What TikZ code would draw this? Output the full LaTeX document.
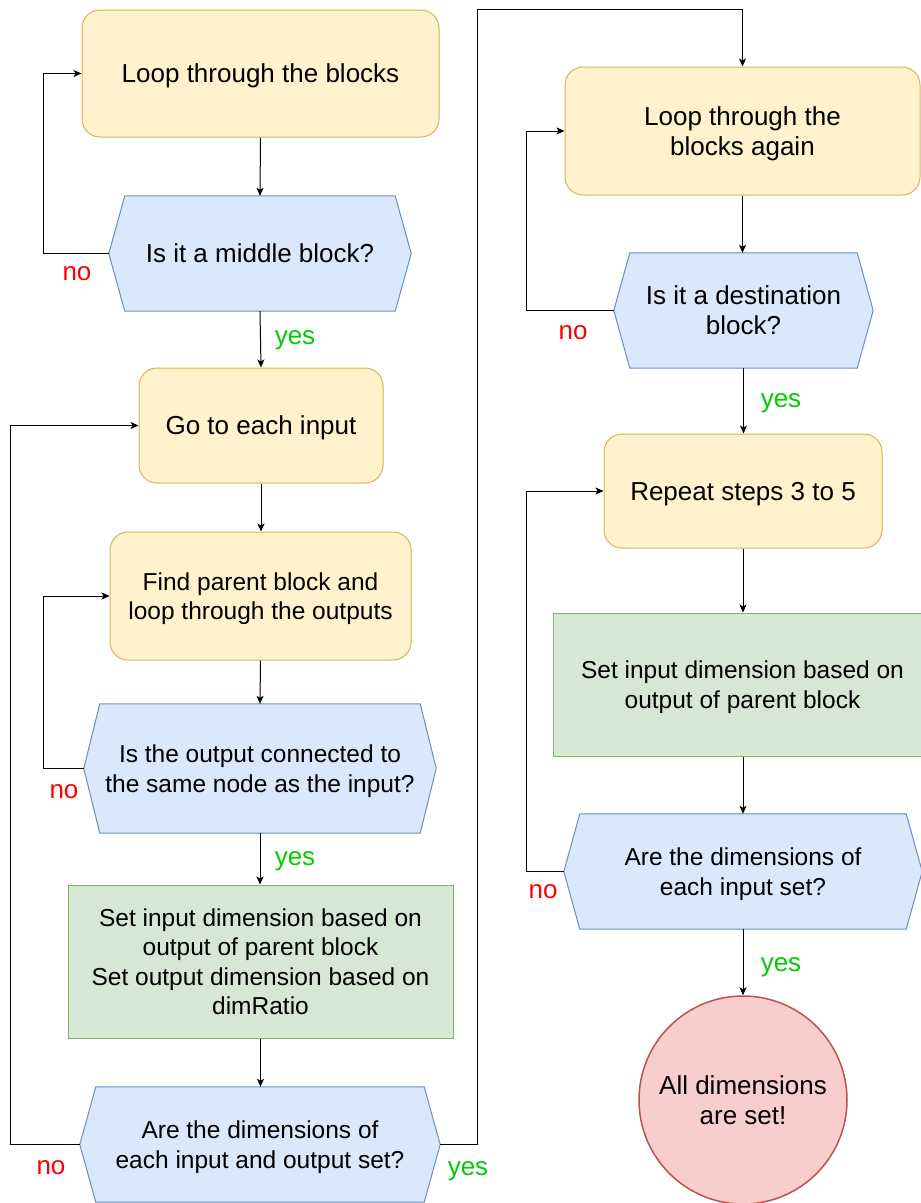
\documentclass[tikz,border=0pt]{standalone}
\usepackage{fontspec}
\setmainfont{Liberation Sans}
\usetikzlibrary{arrows.meta}
\pgfdeclarelayer{background}
\pgfsetlayers{background,main}
\definecolor{yfill}{HTML}{FFF2CC}
\definecolor{ydraw}{HTML}{D6B656}
\definecolor{bfill}{HTML}{DAE8FC}
\definecolor{bdraw}{HTML}{6C8EBF}
\definecolor{gfill}{HTML}{D5E8D4}
\definecolor{gdraw}{HTML}{82B366}
\definecolor{rfill}{HTML}{F8CECC}
\definecolor{rdraw}{HTML}{B85450}
\definecolor{nored}{HTML}{FF0000}
\definecolor{yesgreen}{HTML}{00CC00}
\tikzset{
  txt/.style={font=\fontsize{26}{30}\selectfont, align=center, inner sep=0pt, text depth=0pt},
  small/.style={font=\fontsize{24.5}{29.5}\selectfont},
  ybox/.style={txt, draw=ydraw, fill=yfill, line width=1pt, rounded corners=18pt},
  gbox/.style={txt, draw=gdraw, fill=gfill, line width=1pt},
  hexbox/.style={txt, draw=none, fill=none},
  cbox/.style={txt, draw=rdraw, fill=rfill, line width=1.5pt, circle},
  hexline/.style={draw=bdraw, fill=bfill, line width=1pt},
  conn/.style={draw=black, line width=1pt, -{Stealth[length=8pt,width=7pt,inset=2pt]}},
  lab/.style={font=\fontsize{26}{30}\selectfont, inner sep=0pt},
  nolab/.style={lab, text=nored},
  yeslab/.style={lab, text=yesgreen}
}
\newcommand{\hexdraw}[1]{%
  \begin{pgfonlayer}{background}
  \path[hexline] (#1.west) -- ([xshift=16pt]#1.north west) -- ([xshift=-16pt]#1.north east) -- (#1.east) -- ([xshift=-16pt]#1.south east) -- ([xshift=16pt]#1.south west) -- cycle;
  \end{pgfonlayer}}
\begin{document}
\begin{tikzpicture}[x=1pt,y=-1pt]
\useasboundingbox (0,0) rectangle (921,1203);
% left column
\node[ybox, minimum width=357pt, minimum height=127pt] (r1) at (260.5,73.5) {Loop through the blocks};
\node[hexbox, minimum width=302pt, minimum height=115pt] (h1) at (260,253.5) {Is it a middle block?};
\hexdraw{h1}
\node[ybox, minimum width=244pt, minimum height=115pt] (r2) at (261,425.5) {Go to each input};
\node[ybox, small, minimum width=301pt, minimum height=128pt] (r3) at (260.5,596) {Find parent block and\\loop through the outputs};
\node[hexbox, small, minimum width=352pt, minimum height=129pt] (h2) at (260,768.5) {Is the output connected to\\the same node as the input?};
\hexdraw{h2}
\node[gbox, small, minimum width=385pt, minimum height=153pt] (g1) at (260.5,961.5) {Set input dimension based on\\output of parent block\\Set output dimension based on\\dimRatio};
\node[hexbox, small, minimum width=360pt, minimum height=115pt] (h3) at (260,1144.5) {Are the dimensions of\\each input and output set?};
\hexdraw{h3}
% right column
\node[ybox, minimum width=355pt, minimum height=128pt] (r4) at (742.5,131) {Loop through the\\blocks again};
\node[hexbox, minimum width=259pt, minimum height=115pt] (h4) at (743.5,310.5) {Is it a destination\\block?};
\hexdraw{h4}
\node[ybox, minimum width=278pt, minimum height=114pt] (r5) at (743,491) {Repeat steps 3 to 5};
\node[gbox, small, minimum width=379pt, minimum height=143pt] (g2) at (742.5,684.5) {Set input dimension based on\\output of parent block};
\node[hexbox, small, minimum width=358pt, minimum height=115pt] (h5) at (743,871.5) {Are the dimensions of\\each input set?};
\hexdraw{h5}
\node[cbox, minimum size=208pt] (c1) at (743,1100) {All dimensions\\are set!};
% connectors left
\draw[conn] (r1.south) -- (h1.north);
\draw[conn] (h1.west) -- ++(-65pt,0) |- (r1.west);
\draw[conn] (h1.south) -- (r2.north);
\draw[conn] (r2.south) -- (r2.south |- r3.north);
\draw[conn] (r3.south) -- (h2.north);
\draw[conn] (h2.west) -- ++(-40pt,0) |- (r3.west);
\draw[conn] (h2.south) -- (h2.south |- g1.north);
\draw[conn] (g1.south) -- (g1.south |- h3.north);
\draw[conn] (h3.west) -- ++(-69pt,0) |- (r2.west);
\coordinate (ytop) at (477,9);
\draw[conn] (h3.east) -| (ytop) -| (r4.north);
% connectors right
\draw[conn] (r4.south) -- (r4.south |- h4.north);
\draw[conn] (h4.west) -- ++(-87pt,0) |- (r4.west);
\draw[conn] (h4.south) -- (h4.south |- r5.north);
\draw[conn] (r5.south) -- (r5.south |- g2.north);
\draw[conn] (g2.south -| r5.south) -- (r5.south |- h5.north);
\draw[conn] (h5.west) -- ++(-37pt,0) |- (r5.west);
\draw[conn] (h5.south) -- (c1.north);
% labels
\node[nolab] (n1) at (77,274) {no};
\node[yeslab] (y1) at (295,340) {yes};
\node[nolab] (n2) at (64,792) {no};
\node[yeslab] (y2) at (295,861) {yes};
\node[nolab] (n3) at (51,1168) {no};
\node[yeslab] (y3) at (468,1171) {yes};
\node[nolab] (n4) at (573,333) {no};
\node[yeslab] (y4) at (781,403) {yes};
\node[nolab] (n5) at (543,892) {no};
\node[yeslab] (y5) at (781,967) {yes};
\end{tikzpicture}
\end{document}
